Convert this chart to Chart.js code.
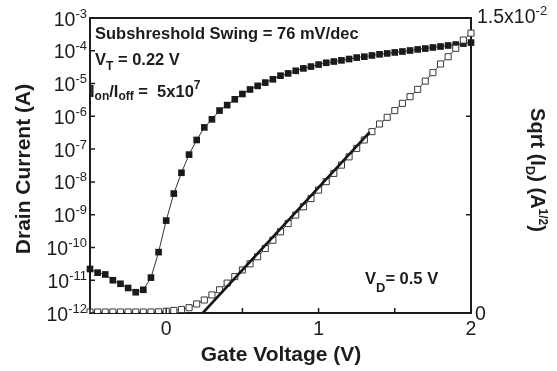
<!DOCTYPE html>
<html>
<head>
<meta charset="utf-8">
<script src="https://cdn.jsdelivr.net/npm/chart.js@4.4.1/dist/chart.umd.min.js"></script>
<style>
  body { margin: 0; background: #fff; }
  #wrap { width: 557px; height: 371px; }
</style>
</head>
<body>
<div id="wrap"><canvas id="grafik"></canvas></div>
<script>
// gate voltage sweep (V)
const gateV = [-0.5, -0.45, -0.4, -0.35, -0.3, -0.25, -0.2, -0.15, -0.1, -0.05,
  0, 0.05, 0.1, 0.15, 0.2, 0.25, 0.3, 0.35, 0.4, 0.45,
  0.5, 0.55, 0.6, 0.65, 0.7, 0.75, 0.8, 0.85, 0.9, 0.95,
  1, 1.05, 1.1, 1.15, 1.2, 1.25, 1.3, 1.35, 1.4, 1.45,
  1.5, 1.55, 1.6, 1.65, 1.7, 1.75, 1.8, 1.85, 1.9, 1.95, 2];

// drain current (A), left log axis, filled squares
const drainI = [2.2e-11, 1.7e-11, 1.5e-11, 1.0e-11, 7.8e-12, 5.8e-12, 4.3e-12, 5.1e-12, 1.2e-11, 7.2e-11,
  6.6e-10, 4.4e-9, 1.9e-8, 6.8e-8, 1.9e-7, 4.6e-7, 8.1e-7, 1.5e-6, 2.2e-6, 3.3e-6,
  4.8e-6, 6.6e-6, 8.5e-6, 1.07e-5, 1.35e-5, 1.74e-5, 2.04e-5, 2.45e-5, 2.9e-5, 3.3e-5,
  3.8e-5, 4.3e-5, 4.7e-5, 5.1e-5, 5.6e-5, 6.2e-5, 6.6e-5, 7.2e-5, 7.8e-5, 8.3e-5,
  8.9e-5, 9.5e-5, 1.02e-4, 1.10e-4, 1.17e-4, 1.26e-4, 1.35e-4, 1.45e-4, 1.55e-4, 1.66e-4, 1.78e-4];

// sqrt(Id) (A^1/2), right linear axis, open squares
const sqrtId = [0.00005, 0.00005, 0.00005, 0.00005, 0.00005, 0.00005, 0.00005, 0.00005, 0.00005, 0.00006,
  0.00009, 0.00013, 0.00018, 0.00027, 0.00046, 0.00066, 0.00092, 0.00118, 0.00152, 0.00185,
  0.00219, 0.0025, 0.00286, 0.00328, 0.0037, 0.00413, 0.00455, 0.00498, 0.0054, 0.00582,
  0.00625, 0.00668, 0.0071, 0.00752, 0.00794, 0.00837, 0.0088, 0.00922, 0.00961, 0.00995,
  0.01029, 0.01066, 0.011, 0.01137, 0.01179, 0.01222, 0.01266, 0.01303, 0.01346, 0.01388, 0.01423];

// linear fit of sqrt(Id) (end points)
const fitV = [0.24, 1.335];
const fitSqrt = [0, 0.0092];

// ticks
const xTicks = [-0.5, 0, 0.5, 1, 1.5, 2];
const yExps = [-3, -4, -5, -6, -7, -8, -9, -10, -11, -12];
const y2Ticks = [0, 0.005, 0.01, 0.015];

const FONT = '"Liberation Sans", Arial, Helvetica, sans-serif';
const INK = '#1c1c1c';

function f(size, bold) {
  return (bold ? 'bold ' : '') + size + 'px ' + FONT;
}

function richWidth(ctx, parts) {
  let w = 0;
  parts.forEach(p => { ctx.font = p.font; w += ctx.measureText(p.t).width; });
  return w;
}

function drawRich(ctx, parts, x, y) {
  parts.forEach(p => {
    ctx.font = p.font;
    ctx.fillText(p.t, x, y + (p.dy || 0));
    x += ctx.measureText(p.t).width;
  });
}

const bingkai = {
  id: 'bingkai',
  beforeDatasetsDraw(chart) {
    const ctx = chart.ctx, a = chart.chartArea;
    ctx.save();
    ctx.strokeStyle = INK;
    ctx.lineWidth = 2;
    ctx.strokeRect(a.left, a.top, a.right - a.left, a.bottom - a.top);
    ctx.restore();
  },
  afterDraw(chart) {
    const ctx = chart.ctx, a = chart.chartArea;
    const sx = chart.scales.x, sy = chart.scales.y, sy2 = chart.scales.y2;
    ctx.save();
    ctx.strokeStyle = INK;
    ctx.fillStyle = INK;
    ctx.lineWidth = 1.5;

    // inward tick marks
    ctx.beginPath();
    xTicks.forEach(v => {
      const px = sx.getPixelForValue(v);
      ctx.moveTo(px, a.bottom); ctx.lineTo(px, a.bottom - 5);
    });
    yExps.forEach(e => {
      const py = sy.getPixelForValue(Math.pow(10, e));
      ctx.moveTo(a.left, py); ctx.lineTo(a.left + 5, py);
    });
    y2Ticks.forEach(v => {
      const py = sy2.getPixelForValue(v);
      ctx.moveTo(a.right, py); ctx.lineTo(a.right - 5, py);
    });
    ctx.stroke();

    // left tick labels 10^n
    ctx.textBaseline = 'alphabetic';
    ctx.textAlign = 'left';
    yExps.forEach(e => {
      const py = sy.getPixelForValue(Math.pow(10, e));
      const parts = [
        { t: '10', font: f(19.5), dy: 7.5 },
        { t: String(e), font: f(13), dy: -0.5 }
      ];
      drawRich(ctx, parts, a.left - 3 - richWidth(ctx, parts), py);
    });

    // right tick labels
    ctx.font = f(19.5);
    ctx.fillText('0', a.right + 4, sy2.getPixelForValue(0) + 6.5);
    drawRich(ctx, [
      { t: '1.5x10', font: f(19.5), dy: 5 },
      { t: '-2', font: f(13), dy: -3.5 }
    ], a.right + 6, sy2.getPixelForValue(0.015));

    // axis titles
    ctx.textAlign = 'center';
    ctx.font = f(21, true);
    ctx.fillText('Gate Voltage (V)', (a.left + a.right) / 2 + 0.5, 361);

    ctx.save();
    ctx.translate(30, 169);
    ctx.rotate(-Math.PI / 2);
    ctx.fillText('Drain Current (A)', 0, 0);
    ctx.restore();

    ctx.textAlign = 'left';
    const rTitle = [
      { t: 'Sqrt (I', font: f(20, true) },
      { t: 'D', font: f(13, true), dy: 5 },
      { t: ') (A', font: f(20, true) },
      { t: '1/2', font: f(12, true), dy: -8 },
      { t: ')', font: f(20, true) }
    ];
    ctx.save();
    ctx.translate(531, 170);
    ctx.rotate(Math.PI / 2);
    drawRich(ctx, rTitle, -richWidth(ctx, rTitle) / 2, 0);
    ctx.restore();

    // annotations
    ctx.font = f(16.5, true);
    ctx.fillText('Subshreshold Swing = 76 mV/dec', 95, 38.5);
    drawRich(ctx, [
      { t: 'V', font: f(16.5, true) },
      { t: 'T', font: f(12, true), dy: 5 },
      { t: ' = 0.22 V', font: f(16.5, true) }
    ], 95, 65);
    drawRich(ctx, [
      { t: 'I', font: f(16.5, true) },
      { t: 'on', font: f(12, true), dy: 3 },
      { t: '/I', font: f(16.5, true) },
      { t: 'off', font: f(12, true), dy: 3 },
      { t: ' =  5x10', font: f(16.5, true) },
      { t: '7', font: f(12, true), dy: -8.5 }
    ], 90, 97);
    drawRich(ctx, [
      { t: 'V', font: f(16.5, true) },
      { t: 'D', font: f(13, true), dy: 8.5 },
      { t: '= 0.5 V', font: f(16.5, true) }
    ], 365, 283.5);

    ctx.restore();
  }
};

function buatGrafik() {
  const ctx = document.getElementById('grafik').getContext('2d');

  new Chart(ctx, {
    type: 'line',
    data: {
      datasets: [
        {
          label: 'fit',
          data: fitV.map((v, i) => ({ x: v, y: fitSqrt[i] })),
          yAxisID: 'y2',
          borderColor: '#151515',
          borderWidth: 2.6,
          pointRadius: 0,
          order: 0
        },
        {
          label: 'sqrt Id',
          data: gateV.map((v, i) => ({ x: v, y: sqrtId[i] })),
          yAxisID: 'y2',
          borderColor: '#3a3a3a',
          borderWidth: 1,
          pointStyle: 'rect',
          pointRadius: 4.3,
          pointBackgroundColor: '#ffffff',
          pointBorderColor: '#3a3a3a',
          pointBorderWidth: 1,
          clip: { left: 8, right: 8, top: 8, bottom: 0 },
          order: 1
        },
        {
          label: 'Id',
          data: gateV.map((v, i) => ({ x: v, y: drainI[i] })),
          yAxisID: 'y',
          borderColor: '#333333',
          borderWidth: 1,
          pointStyle: 'rect',
          pointRadius: 4.7,
          pointBackgroundColor: '#1a1a1a',
          pointBorderColor: '#1a1a1a',
          pointBorderWidth: 0,
          clip: 8,
          order: 2
        }
      ]
    },
    options: {
      responsive: true,
      maintainAspectRatio: false,
      animation: false,
      layout: { padding: { top: 18, left: 0, right: 0, bottom: 0 } },
      plugins: {
        legend: { display: false },
        tooltip: { enabled: false }
      },
      scales: {
        x: {
          type: 'linear',
          min: -0.5,
          max: 2,
          grid: { display: false, drawTicks: false },
          border: { display: false },
          ticks: {
            stepSize: 0.5,
            maxRotation: 0,
            autoSkip: false,
            padding: 5,
            color: INK,
            font: { family: FONT, size: 19.5 },
            callback: v => Number.isInteger(v) ? String(v) : ''
          },
          afterFit: s => { s.height = 58; }
        },
        y: {
          type: 'logarithmic',
          position: 'left',
          min: 1e-12,
          max: 1e-3,
          grid: { display: false, drawTicks: false },
          border: { display: false },
          ticks: { display: false },
          afterFit: s => { s.width = 90; }
        },
        y2: {
          type: 'linear',
          position: 'right',
          min: 0,
          max: 0.015,
          grid: { display: false, drawTicks: false },
          border: { display: false },
          ticks: { display: false },
          afterFit: s => { s.width = 86; }
        }
      }
    },
    plugins: [bingkai]
  });
}

document.addEventListener('DOMContentLoaded', () => {
  buatGrafik();
});
</script>
</body>
</html>
